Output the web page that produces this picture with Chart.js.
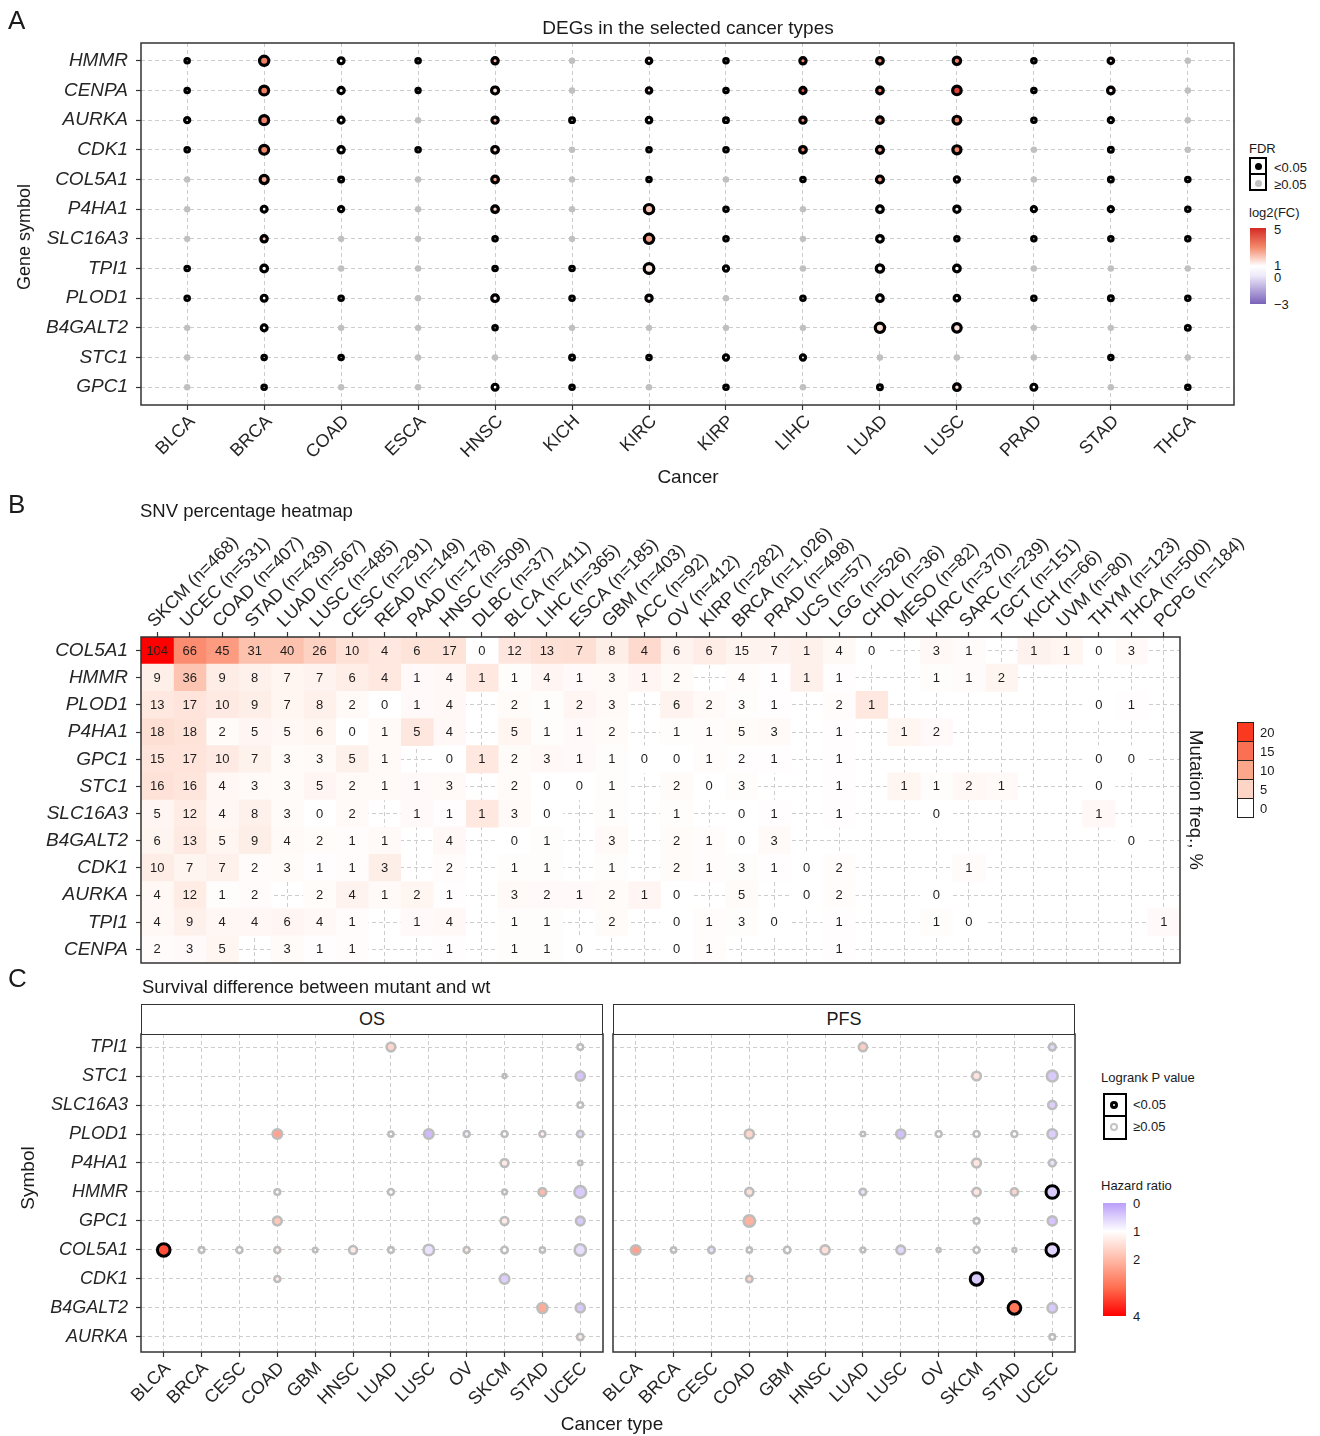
<!DOCTYPE html>
<html lang="en">
<head>
<meta charset="utf-8">
<title>Hub genes across cancer types</title>
<script src="https://cdn.jsdelivr.net/npm/chart.js@4.4.1/dist/chart.umd.min.js"></script>
<style>
  html, body { margin: 0; padding: 0; background: #fff; }
  #page { position: relative; width: 1320px; height: 1436px; overflow: hidden;
          font-family: "Liberation Sans", Arial, Helvetica, sans-serif; color: #1a1a1a; }
  #page canvas { position: absolute; }
  .t { position: absolute; white-space: nowrap; line-height: 1; }
  .box { position: absolute; box-sizing: border-box; }
  .strip { position: absolute; box-sizing: border-box; border: 1.5px solid #333; background: #fff;
           display: flex; align-items: center; justify-content: center; font-size: 18px; }
</style>
</head>
<body>
<div id="page">
  <canvas id="chartA" width="1240" height="492" style="left:0;top:0"></canvas>
  <canvas id="chartB" width="1320" height="490" style="left:0;top:495px"></canvas>
  <canvas id="chartOS" width="608" height="436" style="left:0;top:1000px"></canvas>
  <canvas id="chartPFS" width="560" height="436" style="left:520px;top:1000px"></canvas>
  <div class="strip" style="left:141px;top:1004px;width:462px;height:31px">OS</div>
  <div class="strip" style="left:613px;top:1004px;width:462px;height:31px">PFS</div>
</div>
<script>
const FONT = '"Liberation Sans", Arial, Helvetica, sans-serif';
const INK = '#262626';
Chart.defaults.font.family = FONT;
Chart.defaults.color = INK;
Chart.defaults.animation = false;

const _ = null;

// =========================
// A - DEGs (bubble grid)
// =========================
const degCancers = ['BLCA', 'BRCA', 'COAD', 'ESCA', 'HNSC', 'KICH', 'KIRC', 'KIRP', 'LIHC', 'LUAD', 'LUSC', 'PRAD', 'STAD', 'THCA'];
const degGenes = ['HMMR', 'CENPA', 'AURKA', 'CDK1', 'COL5A1', 'P4HA1', 'SLC16A3', 'TPI1', 'PLOD1', 'B4GALT2', 'STC1', 'GPC1'];
// -log10(FDR), one row per gene
const degLogFdr = [
  [3, 16, 7, 3, 8, 0.6, 6, 3, 8, 9, 11, 3, 6, 0.6],
  [3, 15, 8, 2.5, 10, 0.6, 6, 3, 8, 9, 14, 3, 9, 0.6],
  [5, 15, 7, 0.6, 8, 4, 6, 4, 8, 9, 12, 3, 5, 0.6],
  [3, 15, 8, 3, 9, 0.6, 3, 3, 9, 10, 13, 0.6, 4, 0.6],
  [0.6, 13, 4, 0.6, 9, 0.6, 3, 0.6, 3, 10, 5, 0.6, 4, 3],
  [0.6, 7, 5, 0.6, 9, 0.6, 16, 3, 0.6, 9, 8, 5, 5, 3],
  [0.6, 8, 0.6, 0.6, 3, 0.6, 16, 3, 0.6, 9, 3, 3, 3, 3],
  [3, 9, 0.6, 0.6, 3, 3, 17, 5, 0.6, 11, 9, 0.6, 0.6, 0.6],
  [3, 7, 3, 0.6, 9, 3, 8, 0.6, 3, 9, 6, 3, 4, 3],
  [0.6, 7, 0.6, 0.6, 3, 0.6, 0.6, 0.6, 0.6, 16, 14, 0.6, 0.6, 4],
  [0.6, 3, 3, 0.6, 0.6, 4, 3, 5, 5, 0.6, 0.6, 0.6, 3, 0.6],
  [0.6, 3, 0.6, 0.6, 7, 3, 0.6, 3, 0.6, 4, 9, 7, 0.6, 3]
];
const degLog2FC = [
  [2.0, 3.2, 1.0, 1.8, 2.2, 0.6, 1.5, 1.4, 3.0, 2.8, 3.2, 1.2, 1.5, 0.4],
  [1.9, 3.2, 1.1, 1.5, 1.5, 0.7, 1.6, 1.5, 4.3, 3.0, 4.5, 1.3, 1.3, 0.5],
  [1.7, 3.1, 1.0, 1.0, 2.4, 1.5, 1.3, 1.6, 3.0, 2.9, 3.1, 1.1, 1.4, 0.4],
  [2.0, 3.0, 1.0, 1.8, 1.6, 0.8, 1.4, 1.4, 3.2, 2.4, 3.0, 0.6, 1.4, 0.3],
  [0.8, 2.4, 1.4, 0.9, 2.6, 0.2, 1.3, 0.5, 1.4, 2.6, 1.5, 0.3, 1.5, 1.3],
  [0.5, 1.2, 1.2, 0.6, 1.8, 0.3, 2.0, 1.2, 0.4, 1.2, 1.2, 1.0, 1.1, 1.0],
  [0.6, 2.0, 0.5, 0.4, 1.2, 0.2, 2.6, 1.3, 0.4, 1.1, 1.2, 1.1, 1.1, 1.2],
  [1.0, 1.0, 0.5, 0.5, 1.0, 1.0, 1.4, 1.0, 0.6, 1.2, 1.0, 0.3, 0.5, 0.3],
  [1.2, 1.0, 1.1, 0.6, 1.3, 1.0, 1.3, 0.4, 1.1, 1.2, 1.1, 1.0, 1.1, 1.1],
  [0.5, 1.1, 0.4, 0.3, 1.2, 0.2, 0.4, 0.3, 0.5, 1.6, 1.5, 0.3, 0.4, 1.1],
  [0.5, 1.2, 1.3, 0.4, 0.6, 1.3, 1.2, 1.1, 1.2, 0.5, 0.4, 0.2, 1.2, 0.4],
  [0.5, 1.2, 0.6, 0.4, 1.1, 1.2, 0.5, 1.1, 0.6, 1.2, 1.6, 1.2, 0.6, 1.1]
];

// =========================
// B - SNV counts
// =========================
const snvCancers = ['SKCM', 'UCEC', 'COAD', 'STAD', 'LUAD', 'LUSC', 'CESC', 'READ', 'PAAD', 'HNSC', 'DLBC', 'BLCA', 'LIHC', 'ESCA', 'GBM', 'ACC',
  'OV', 'KIRP', 'BRCA', 'PRAD', 'UCS', 'LGG', 'CHOL', 'MESO', 'KIRC', 'SARC', 'TGCT', 'KICH', 'UVM', 'THYM', 'THCA', 'PCPG'];
const snvN = [468, 531, 407, 439, 567, 485, 291, 149, 178, 509, 37, 411, 365, 185, 403, 92,
  412, 282, 1026, 498, 57, 526, 36, 82, 370, 239, 151, 66, 80, 123, 500, 184];
const snvGenes = ['COL5A1', 'HMMR', 'PLOD1', 'P4HA1', 'GPC1', 'STC1', 'SLC16A3', 'B4GALT2', 'CDK1', 'AURKA', 'TPI1', 'CENPA'];
const snvCounts = [
  [104, 66, 45, 31, 40, 26, 10, 4, 6, 17, 0, 12, 13, 7, 8, 4, 6, 6, 15, 7, 1, 4, 0, _, 3, 1, _, 1, 1, 0, 3, _],
  [9, 36, 9, 8, 7, 7, 6, 4, 1, 4, 1, 1, 4, 1, 3, 1, 2, _, 4, 1, 1, 1, _, _, 1, 1, 2, _, _, _, _, _],
  [13, 17, 10, 9, 7, 8, 2, 0, 1, 4, _, 2, 1, 2, 3, _, 6, 2, 3, 1, _, 2, 1, _, _, _, _, _, _, 0, 1, _],
  [18, 18, 2, 5, 5, 6, 0, 1, 5, 4, _, 5, 1, 1, 2, _, 1, 1, 5, 3, _, 1, _, 1, 2, _, _, _, _, _, _, _],
  [15, 17, 10, 7, 3, 3, 5, 1, _, 0, 1, 2, 3, 1, 1, 0, 0, 1, 2, 1, _, 1, _, _, _, _, _, _, _, 0, 0, _],
  [16, 16, 4, 3, 3, 5, 2, 1, 1, 3, _, 2, 0, 0, 1, _, 2, 0, 3, _, _, 1, _, 1, 1, 2, 1, _, _, 0, _, _],
  [5, 12, 4, 8, 3, 0, 2, _, 1, 1, 1, 3, 0, _, 1, _, 1, _, 0, 1, _, 1, _, _, 0, _, _, _, _, 1, _, _],
  [6, 13, 5, 9, 4, 2, 1, 1, _, 4, _, 0, 1, _, 3, _, 2, 1, 0, 3, _, _, _, _, _, _, _, _, _, _, 0, _],
  [10, 7, 7, 2, 3, 1, 1, 3, _, 2, _, 1, 1, _, 1, _, 2, 1, 3, 1, 0, 2, _, _, _, 1, _, _, _, _, _, _],
  [4, 12, 1, 2, _, 2, 4, 1, 2, 1, _, 3, 2, 1, 2, 1, 0, _, 5, _, 0, 2, _, _, 0, _, _, _, _, _, _, _],
  [4, 9, 4, 4, 6, 4, 1, _, 1, 4, _, 1, 1, _, 2, _, 0, 1, 3, 0, _, 1, _, _, 1, 0, _, _, _, _, _, 1],
  [2, 3, 5, _, 3, 1, 1, _, _, 1, _, 1, 1, 0, _, _, 0, 1, _, _, _, 1, _, _, _, _, _, _, _, _, _, _]
];
const snvLegendTicks = [20, 15, 10, 5, 0];

// =========================
// C - survival (OS / PFS)
// =========================
const survCancers = ['BLCA', 'BRCA', 'CESC', 'COAD', 'GBM', 'HNSC', 'LUAD', 'LUSC', 'OV', 'SKCM', 'STAD', 'UCEC'];
const survGenes = ['TPI1', 'STC1', 'SLC16A3', 'PLOD1', 'P4HA1', 'HMMR', 'GPC1', 'COL5A1', 'CDK1', 'B4GALT2', 'AURKA'];
const osHR = [
  [_, _, _, _, _, _, 1.6, _, _, _, _, 1.0],
  [_, _, _, _, _, _, _, _, _, 1.0, _, 0.4],
  [_, _, _, _, _, _, _, _, _, _, _, 1.0],
  [_, _, _, 2.3, _, _, 1.0, 0.3, 0.85, 1.0, 1.2, 0.6],
  [_, _, _, _, _, _, _, _, _, 1.3, _, 1.0],
  [_, _, _, 1.0, _, _, 1.0, _, _, 1.0, 2.0, 0.45],
  [_, _, _, 1.8, _, _, _, _, _, 1.3, _, 0.45],
  [3.3, 1.0, 1.0, 1.2, 1.0, 1.3, 1.0, 0.7, 1.3, 1.0, 1.0, 0.65],
  [_, _, _, 1.3, _, _, _, _, _, 0.5, _, _],
  [_, _, _, _, _, _, _, _, _, _, 2.2, 0.45],
  [_, _, _, _, _, _, _, _, _, _, _, 1.3]
];
const osLogP = [
  [_, _, _, _, _, _, 0.6, _, _, _, _, 0.25],
  [_, _, _, _, _, _, _, _, _, 0.05, _, 0.65],
  [_, _, _, _, _, _, _, _, _, _, _, 0.25],
  [_, _, _, 0.7, _, _, 0.2, 0.7, 0.3, 0.3, 0.3, 0.35],
  [_, _, _, _, _, _, _, _, _, 0.5, _, 0.1],
  [_, _, _, 0.25, _, _, 0.3, _, _, 0.15, 0.5, 0.95],
  [_, _, _, 0.6, _, _, _, _, _, 0.5, _, 0.6],
  [1.8, 0.25, 0.3, 0.3, 0.12, 0.5, 0.25, 0.8, 0.3, 0.35, 0.2, 0.9],
  [_, _, _, 0.3, _, _, _, _, _, 0.7, _, _],
  [_, _, _, _, _, _, _, _, _, _, 0.75, 0.65],
  [_, _, _, _, _, _, _, _, _, _, _, 0.35]
];
const pfsHR = [
  [_, _, _, _, _, _, 1.7, _, _, _, _, 0.6],
  [_, _, _, _, _, _, _, _, _, 1.4, _, 0.45],
  [_, _, _, _, _, _, _, _, _, _, _, 0.5],
  [_, _, _, 1.6, _, _, 1.0, 0.35, 1.0, 1.0, 1.0, 0.5],
  [_, _, _, _, _, _, _, _, _, 1.35, _, 0.7],
  [_, _, _, 1.45, _, _, 0.7, _, _, 1.35, 1.6, 0.45],
  [_, _, _, 2.1, _, _, _, _, _, 1.0, _, 0.4],
  [2.3, 1.0, 0.7, 1.0, 1.0, 1.45, 1.0, 0.6, 1.0, 1.0, 1.0, 0.55],
  [_, _, _, 1.6, _, _, _, _, _, 0.45, _, _],
  [_, _, _, _, _, _, _, _, _, _, 2.9, 0.45],
  [_, _, _, _, _, _, _, _, _, _, _, 1.0]
];
const pfsLogP = [
  [_, _, _, _, _, _, 0.55, _, _, _, _, 0.4],
  [_, _, _, _, _, _, _, _, _, 0.6, _, 0.85],
  [_, _, _, _, _, _, _, _, _, _, _, 0.55],
  [_, _, _, 0.65, _, _, 0.12, 0.65, 0.3, 0.3, 0.3, 0.7],
  [_, _, _, _, _, _, _, _, _, 0.6, _, 0.4],
  [_, _, _, 0.55, _, _, 0.35, _, _, 0.55, 0.45, 1.5],
  [_, _, _, 0.9, _, _, _, _, _, 0.25, _, 0.65],
  [0.7, 0.2, 0.35, 0.2, 0.35, 0.65, 0.15, 0.6, 0.05, 0.3, 0.05, 1.5],
  [_, _, _, 0.35, _, _, _, _, _, 1.4, _, _],
  [_, _, _, _, _, _, _, _, _, _, 1.5, 0.7],
  [_, _, _, _, _, _, _, _, _, _, _, 0.25]
];

// --- colour scales ---
const fcStops = [[-3, [122, 98, 186]], [0, [238, 234, 250]], [1, [255, 255, 255]], [3, [243, 135, 106]], [5, [212, 43, 36]]];
const freqStops = [[0, [255, 255, 255]], [5, [253, 213, 198]], [10, [252, 167, 140]], [15, [251, 112, 83]], [20, [249, 58, 32]], [22, [255, 0, 0]]];
const hrStops = [[0, [186, 158, 250]], [1, [255, 255, 255]], [2, [255, 186, 168]], [3, [255, 110, 80]], [4, [255, 0, 0]]];

function scaleColor(stops, v) {
  if (v <= stops[0][0]) return `rgb(${stops[0][1].join(',')})`;
  for (let i = 1; i < stops.length; i++) {
    const [v0, c0] = stops[i - 1];
    const [v1, c1] = stops[i];
    if (v <= v1) {
      const t = (v - v0) / (v1 - v0);
      return `rgb(${c0.map((c, k) => Math.round(c + (c1[k] - c) * t)).join(',')})`;
    }
  }
  return `rgb(${stops[stops.length - 1][1].join(',')})`;
}

function cssGradient(stops, top, bottom) {
  const parts = stops
    .map(([v, c]) => [((v - top) / (bottom - top)) * 100, c])
    .filter(([p]) => p >= 0 && p <= 100)
    .sort((a, b) => a[0] - b[0])
    .map(([p, c]) => `rgb(${c.join(',')}) ${p.toFixed(1)}%`);
  return `linear-gradient(to bottom, ${parts.join(', ')})`;
}

// --- shared axis bits ---
function gridOpts(extra) {
  return Object.assign({ color: '#cdcdcd', lineWidth: 1, tickColor: '#333', tickWidth: 1.2, tickLength: 5, tickBorderDash: [] }, extra);
}
const dashed = { display: false, dash: [4, 3] };

const panelFrame = {
  id: 'panelFrame',
  afterDraw(chart) {
    const { ctx, chartArea: a } = chart;
    ctx.save();
    ctx.strokeStyle = '#333';
    ctx.lineWidth = 1.5;
    ctx.strokeRect(a.left, a.top, a.right - a.left, a.bottom - a.top);
    ctx.restore();
  }
};

// --- A chart ---
const ptsA = [], radA = [], fillA = [], lineA = [], widthA = [];
degGenes.forEach((g, gi) => degCancers.forEach((c, ci) => {
  const lf = degLogFdr[gi][ci];
  const sig = lf > 1.3;
  ptsA.push({ x: ci, y: gi });
  radA.push(sig ? 1.6 + 0.19 * Math.min(lf, 18) : 2.1);
  fillA.push(sig ? scaleColor(fcStops, degLog2FC[gi][ci]) : '#c0c0c0');
  lineA.push(sig ? '#000' : '#c0c0c0');
  widthA.push(sig ? 3.2 : 2.2);
}));

new Chart(document.getElementById('chartA'), {
  type: 'scatter',
  data: {
    datasets: [{
      data: ptsA,
      pointRadius: radA,
      pointHoverRadius: radA,
      pointBackgroundColor: fillA,
      pointBorderColor: lineA,
      pointBorderWidth: widthA
    }]
  },
  options: {
    responsive: false,
    layout: { autoPadding: false, padding: { top: 43, right: 6, left: 0, bottom: 0 } },
    plugins: { legend: { display: false }, tooltip: { enabled: false } },
    scales: {
      x: {
        type: 'linear', min: -0.6, max: 13.6,
        afterBuildTicks: s => { s.ticks = degCancers.map((c, i) => ({ value: i })); },
        afterFit: s => { s.height = 87; },
        ticks: { autoSkip: false, minRotation: 45, maxRotation: 45, padding: 1, labelOffset: 5, font: { size: 18 }, callback: v => degCancers[v] },
        grid: gridOpts(), border: dashed
      },
      y: {
        type: 'linear', reverse: true, min: -0.6, max: 11.6,
        afterBuildTicks: s => { s.ticks = degGenes.map((g, i) => ({ value: i })); },
        afterFit: s => { s.width = 141; },
        ticks: { autoSkip: false, padding: 8, font: { size: 19, style: 'italic' }, callback: v => degGenes[v] },
        grid: gridOpts(), border: dashed
      }
    }
  },
  plugins: [panelFrame]
});

// --- B chart (floating bars as heatmap cells) ---
const snvLabels = snvCancers.map((c, i) => `${c} (n=${snvN[i].toLocaleString('en-US')})`);
const snvSets = snvCancers.map((c, ci) => ({
  label: c,
  data: snvGenes.map((g, gi) => snvCounts[gi][ci] === null ? null : [ci, ci + 1]),
  backgroundColor: snvGenes.map((g, gi) => scaleColor(freqStops, 100 * (snvCounts[gi][ci] || 0) / snvN[ci])),
  borderWidth: 0,
  grouped: false,
  barPercentage: 1,
  categoryPercentage: 1
}));

const cellText = {
  id: 'cellText',
  afterDatasetsDraw(chart) {
    const ctx = chart.ctx;
    ctx.save();
    ctx.font = '13px ' + FONT;
    ctx.fillStyle = '#1e1e1e';
    ctx.textAlign = 'center';
    ctx.textBaseline = 'middle';
    chart.data.datasets.forEach((ds, ci) => {
      chart.getDatasetMeta(ci).data.forEach((bar, gi) => {
        const v = snvCounts[gi][ci];
        if (v === null) return;
        const { x, y, base } = bar.getProps(['x', 'y', 'base'], true);
        ctx.fillText(String(v), (x + base) / 2, y + 0.5);
      });
    });
    ctx.restore();
  }
};

new Chart(document.getElementById('chartB'), {
  type: 'bar',
  data: { labels: snvGenes, datasets: snvSets },
  options: {
    responsive: false,
    indexAxis: 'y',
    layout: { autoPadding: false, padding: { top: 0, right: 140, left: 0, bottom: 22 } },
    plugins: { legend: { display: false }, tooltip: { enabled: false } },
    scales: {
      x: {
        type: 'linear', position: 'top', min: 0, max: 32,
        afterBuildTicks: s => { s.ticks = snvCancers.map((c, i) => ({ value: i + 0.5 })); },
        afterFit: s => { s.height = 142; },
        ticks: { autoSkip: false, minRotation: 45, maxRotation: 45, padding: 0, labelOffset: 9, font: { size: 18 }, callback: (v, i) => snvLabels[i] },
        grid: gridOpts(), border: dashed
      },
      y: {
        type: 'category', offset: true,
        afterFit: s => { s.width = 141; },
        ticks: { autoSkip: false, padding: 8, font: { size: 19, style: 'italic' } },
        grid: gridOpts({ offset: false }), border: dashed
      }
    }
  },
  plugins: [cellText, panelFrame]
});

// --- C charts ---
function survivalChart(id, hr, logp, showY, yWidth) {
  const pts = [], rad = [], fill = [], line = [], lw = [];
  survGenes.forEach((g, gi) => survCancers.forEach((c, ci) => {
    if (hr[gi][ci] === null) return;
    const sig = logp[gi][ci] > 1.3;
    pts.push({ x: ci, y: gi });
    rad.push(1.7 + 4.4 * Math.min(logp[gi][ci], 1.05));
    fill.push(scaleColor(hrStops, hr[gi][ci]));
    line.push(sig ? '#000' : '#bdbdbd');
    lw.push(sig ? 3 : 2.6);
  }));
  return new Chart(document.getElementById(id), {
    type: 'scatter',
    data: {
      datasets: [{
        data: pts,
        pointRadius: rad,
        pointHoverRadius: rad,
        pointBackgroundColor: fill,
        pointBorderColor: line,
        pointBorderWidth: lw
      }]
    },
    options: {
      responsive: false,
      layout: { autoPadding: false, padding: { top: 34, right: 5, left: 0, bottom: 0 } },
      plugins: { legend: { display: false }, tooltip: { enabled: false } },
      scales: {
        x: {
          type: 'linear', min: -0.6, max: 11.6,
          afterBuildTicks: s => { s.ticks = survCancers.map((c, i) => ({ value: i })); },
          afterFit: s => { s.height = 84; },
          ticks: { autoSkip: false, minRotation: 45, maxRotation: 45, padding: 1, labelOffset: 4, font: { size: 18 }, callback: v => survCancers[v] },
          grid: gridOpts(), border: dashed
        },
        y: {
          type: 'linear', reverse: true, min: -0.45, max: 10.52,
          afterBuildTicks: s => { s.ticks = survGenes.map((g, i) => ({ value: i })); },
          afterFit: s => { s.width = yWidth; },
          ticks: { display: showY, autoSkip: false, padding: 8, font: { size: 18, style: 'italic' }, callback: v => survGenes[v] },
          grid: gridOpts({ drawTicks: showY }), border: dashed
        }
      }
    },
    plugins: [panelFrame]
  });
}

survivalChart('chartOS', osHR, osLogP, true, 141);
survivalChart('chartPFS', pfsHR, pfsLogP, false, 93);

// =========================
// Text, titles and legends
// =========================
const page = document.getElementById('page');
function text(str, x, y, size, opts = {}) {
  const el = document.createElement('div');
  el.className = 't';
  el.textContent = str;
  el.style.left = x + 'px';
  el.style.top = y + 'px';
  el.style.fontSize = size + 'px';
  const ax = { left: '0', center: '-50%', right: '-100%' }[opts.align || 'left'];
  el.style.transform = `translate(${ax}, -50%)` + (opts.rotate ? ` rotate(${opts.rotate}deg)` : '');
  if (opts.italic) el.style.fontStyle = 'italic';
  page.appendChild(el);
  return el;
}
function box(x, y, w, h, css) {
  const el = document.createElement('div');
  el.className = 'box';
  Object.assign(el.style, { left: x + 'px', top: y + 'px', width: w + 'px', height: h + 'px' }, css);
  page.appendChild(el);
  return el;
}

// panel letters and titles
text('A', 8, 20, 26);
text('B', 8, 504, 26);
text('C', 8, 978, 26);
text('DEGs in the selected cancer types', 688, 27, 19, { align: 'center' });
text('Cancer', 688, 476, 19, { align: 'center' });
text('Gene symbol', 24, 237, 18, { align: 'center', rotate: -90 });
text('SNV percentage heatmap', 140, 511, 18.5);
text('Mutation freq., %', 1196, 800, 18.5, { align: 'center', rotate: 90 });
text('Survival difference between mutant and wt', 142, 987, 18.5);
text('Symbol', 27, 1178, 19, { align: 'center', rotate: -90 });
text('Cancer type', 612, 1423, 19, { align: 'center' });

// A legend
text('FDR', 1249, 148, 13);
box(1249, 157, 18, 34, { border: '2px solid #000' });
box(1249, 173, 18, 2, { background: '#000' });
box(1255, 163, 7, 7, { background: '#000', borderRadius: '50%' });
box(1255, 180, 7, 7, { background: '#c2c2c2', borderRadius: '50%' });
text('<0.05', 1274, 167, 13);
text('\u22650.05', 1274, 184, 13);
text('log2(FC)', 1249, 212, 13);
box(1250, 228, 16, 76, { background: cssGradient(fcStops, 5, -3) });
text('5', 1274, 229, 13);
text('1', 1274, 265, 13);
text('0', 1274, 277, 13);
text('\u22123', 1274, 304, 13);

// B legend
snvLegendTicks.forEach((v, i) => {
  box(1237, 722 + i * 19, 17, 20, { background: scaleColor(freqStops, v), border: '1.5px solid #222' });
  text(String(v), 1260, 732 + i * 19, 13);
});

// C legend
text('Logrank P value', 1101, 1077, 13);
box(1103, 1093, 24, 47, { border: '2px solid #000' });
box(1103, 1115, 24, 2, { background: '#000' });
box(1110, 1101, 8, 8, { background: '#fff', border: '3px solid #000', borderRadius: '50%' });
box(1110, 1123, 8, 8, { background: '#fff', border: '2.5px solid #c4c4c4', borderRadius: '50%' });
text('<0.05', 1133, 1104, 13);
text('\u22650.05', 1133, 1126, 13);
text('Hazard ratio', 1101, 1185, 13);
box(1103, 1203, 23, 113, { background: cssGradient(hrStops, 0, 4) });
text('0', 1133, 1203, 13);
text('1', 1133, 1231, 13);
text('2', 1133, 1259, 13);
text('4', 1133, 1316, 13);
</script>
</body>
</html>
